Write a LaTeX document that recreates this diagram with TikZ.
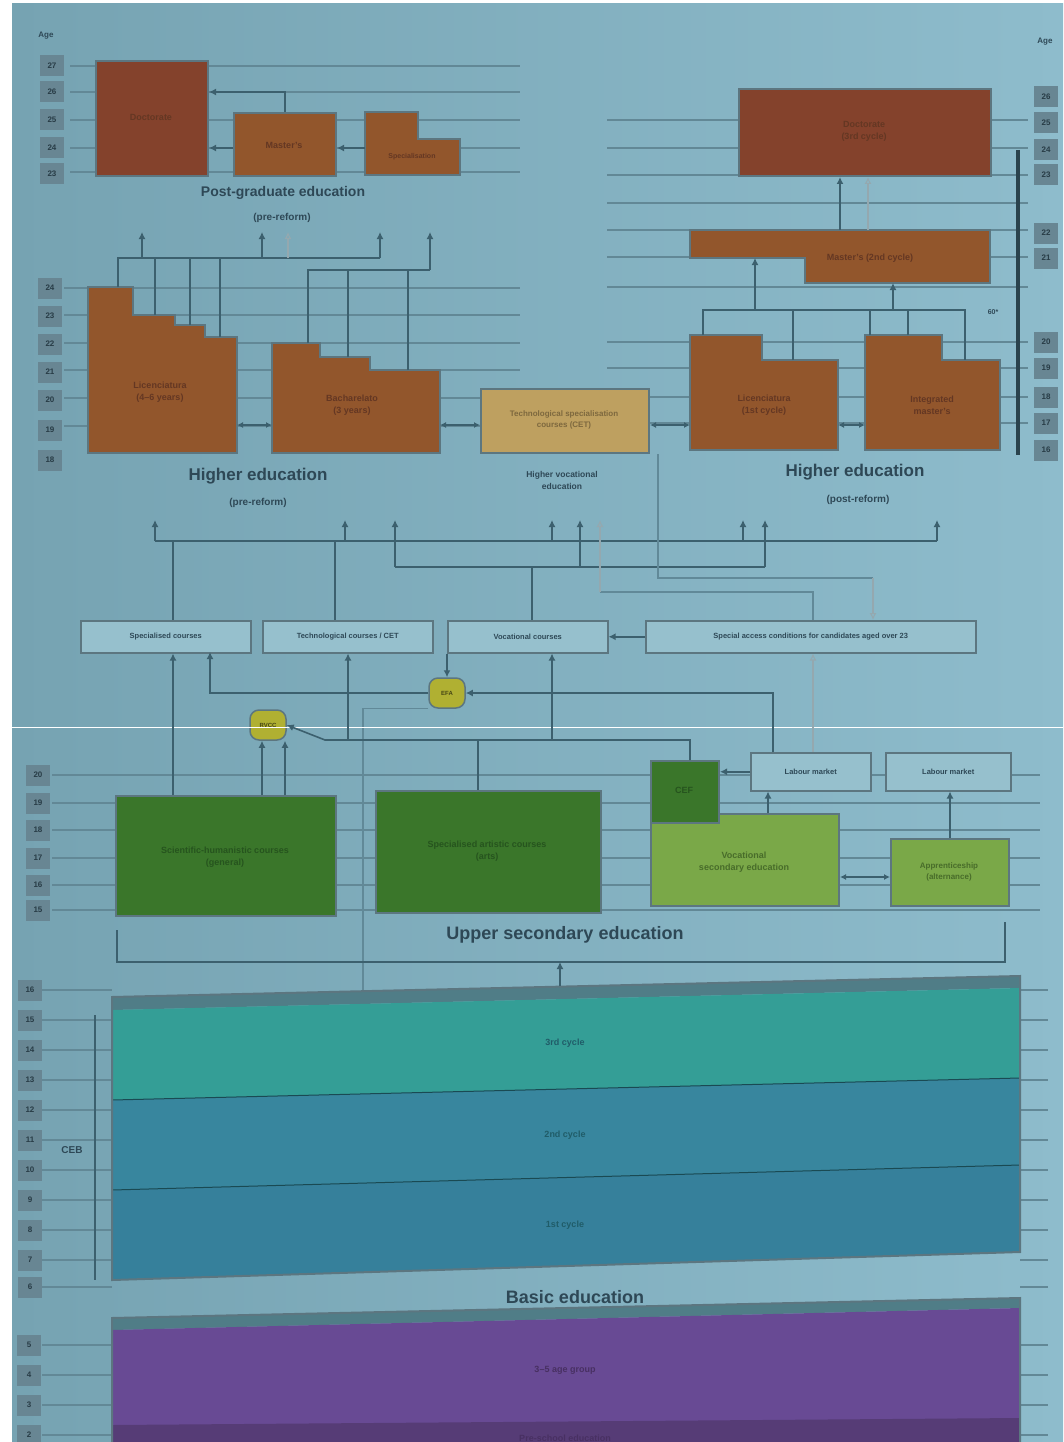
\documentclass[tikz,border=0pt]{standalone}
\usepackage{fontspec}
\setmainfont{Liberation Sans}
\usetikzlibrary{arrows.meta}
\definecolor{bgl}{RGB}{118,163,178}
\definecolor{bgr}{RGB}{142,188,204}
\definecolor{gridc}{RGB}{98,136,150}
\definecolor{linec}{RGB}{60,96,110}
\definecolor{edgec}{RGB}{92,118,128}
\definecolor{rustA}{RGB}{132,66,44}
\definecolor{rustB}{RGB}{146,86,44}
\definecolor{rustT}{RGB}{100,55,35}
\definecolor{tanc}{RGB}{190,160,96}
\definecolor{tanT}{RGB}{125,104,62}
\definecolor{gdark}{RGB}{58,118,42}
\definecolor{gdarkT}{RGB}{38,84,30}
\definecolor{glight}{RGB}{122,168,72}
\definecolor{glightT}{RGB}{72,108,42}
\definecolor{tealc}{RGB}{52,158,150}
\definecolor{bluec}{RGB}{56,134,158}
\definecolor{blueb}{RGB}{54,128,155}
\definecolor{bandT}{RGB}{32,92,104}
\definecolor{topface}{RGB}{80,125,135}
\definecolor{purc}{RGB}{104,74,148}
\definecolor{purd}{RGB}{86,60,118}
\definecolor{purT}{RGB}{72,48,98}
\definecolor{rowfill}{RGB}{150,192,205}
\definecolor{headc}{RGB}{46,72,86}
\definecolor{agefill}{RGB}{104,134,147}
\definecolor{agetxt}{RGB}{40,60,70}
\definecolor{yelc}{RGB}{176,176,50}
\begin{document}
\begin{tikzpicture}[x=1pt,y=-1pt,
  every node/.style={inner sep=0pt},
  boxnw/.style={anchor=north west, rectangle, draw=edgec, line width=2pt},
  rowbox/.style={boxnw, fill=rowfill, line width=1.5pt, minimum height=32pt,
    font=\bfseries\fontsize{7.5}{9}\selectfont, text=headc},
  intxt/.style={font=\bfseries\fontsize{9}{12}\selectfont, align=center},
  head/.style={font=\bfseries\fontsize{17}{19}\selectfont, text=headc},
  sub/.style={font=\bfseries\fontsize{10}{12}\selectfont, text=headc, align=center},
  agebox/.style={fill=agefill, text=agetxt, font=\bfseries\fontsize{8}{9}\selectfont,
    minimum width=24pt, minimum height=21pt},
  gridl/.style={draw=gridc, line width=1.1pt},
  conn/.style={draw=linec, line width=1.6pt},
  arr/.style={conn, -{Latex[length=7pt,width=7pt]}},
  darr/.style={conn, {Latex[length=6pt,width=6pt]}-{Latex[length=6pt,width=6pt]}},
  harr/.style={draw=linec!55!white, line width=1.1pt, -{Latex[open,length=7pt,width=7pt]}},
  thinl/.style={draw=linec!55!bgr, line width=1.1pt},
  ybox/.style={rectangle, rounded corners=9pt, fill=yelc, draw=edgec, line width=1.5pt,
    minimum width=36pt, minimum height=30pt, font=\bfseries\fontsize{6}{7}\selectfont, text=black!60!yelc}
]
\useasboundingbox (0,0) rectangle (1063,1442);
% ---------------- background
\fill[white] (0,0) rectangle (1063,1442);
\shade[left color=bgl, right color=bgr] (12,4) rectangle (1063,1442);

% ---------------- grid lines
\foreach \y in {66,92,120,148,172} \draw[gridl] (70,\y) -- (520,\y);
\foreach \y in {120,148,175,203,230,257} \draw[gridl] (607,\y) -- (1028,\y);
\foreach \y in {288,315,343,370,398,426} \draw[gridl] (64,\y) -- (520,\y);
\foreach \y in {287,342,368,397,423} \draw[gridl] (607,\y) -- (1028,\y);
\foreach \y in {775,803,830,858,885,910} \draw[gridl] (52,\y) -- (1040,\y);
\foreach \y in {990,1020,1050,1080,1110,1140,1170,1200,1230,1260,1287} {
  \draw[gridl] (42,\y) -- (112,\y);
  \draw[gridl] (1020,\y) -- (1048,\y);}
\foreach \y in {1345,1375,1405,1435} {
  \draw[gridl] (42,\y) -- (112,\y);
  \draw[gridl] (1020,\y) -- (1048,\y);}

% ---------------- age columns
\node[font=\bfseries\fontsize{8}{9}\selectfont, text=headc] (ageL) at (46,36) {Age};
\node[font=\bfseries\fontsize{8}{9}\selectfont, text=headc] (ageR) at (1045,42) {Age};
\foreach \a/\y [count=\i] in {27/66,26/92,25/120,24/148,23/174}
  \node[agebox] (pga\i) at (52,\y) {\a};
\foreach \a/\y [count=\i] in {24/288,23/316,22/344,21/372,20/400,19/430,18/460}
  \node[agebox] (hea\i) at (50,\y) {\a};
\foreach \a/\y [count=\i] in {26/97,25/123,24/150,23/175,22/233,21/258,20/342,19/368,18/397,17/423,16/450}
  \node[agebox] (ra\i) at (1046,\y) {\a};
\foreach \a/\y [count=\i] in {20/775,19/803,18/830,17/858,16/885,15/910}
  \node[agebox] (usa\i) at (38,\y) {\a};
\foreach \a/\y [count=\i] in {16/990,15/1020,14/1050,13/1080,12/1110,11/1140,10/1170,9/1200,8/1230,7/1260,6/1287}
  \node[agebox] (ba\i) at (30,\y) {\a};
\foreach \a/\y [count=\i] in {5/1345,4/1375,3/1405,2/1435}
  \node[agebox] (pa\i) at (29,\y) {\a};

% ---------------- post-graduate (pre-reform)
\node[boxnw, fill=rustA, minimum width=112pt, minimum height=115pt] (pg1) at (95,60) {};
\node[intxt, text=rustT] (pg1t) at (151,117) {Doctorate};
\node[boxnw, fill=rustB, minimum width=102pt, minimum height=63pt] (pg2) at (233,112) {};
\node[intxt, text=rustT] (pg2t) at (284,145) {Master's};
\filldraw[fill=rustB, draw=edgec, line width=2pt] (365,112) -- (418,112) -- (418,139) -- (460,139) -- (460,175) -- (365,175) -- cycle;
\node[intxt, text=rustT, font=\bfseries\fontsize{7}{9}\selectfont] (pg3t) at (412,157) {Specialisation};
\coordinate (pg3w) at (365,148);
\coordinate (pgj) at (284,92);
\draw[arr] (pg2.north) -- (pg2.north |- pgj) -- (pg1.east |- pgj);
\draw[arr] (pg2.west |- pg3w) -- (pg1.east |- pg3w);
\draw[arr] (pg3w) -- (pg2.east |- pg3w);
\node[head, font=\bfseries\fontsize{14}{16}\selectfont] (pgh) at (283,193) {Post-graduate education};
\node[sub] (pgs) at (282,218) {(pre-reform)};

% ---------------- higher education (pre-reform)
\filldraw[fill=rustB, draw=edgec, line width=2pt] (88,287) -- (133,287) -- (133,315) -- (175,315) -- (175,325) -- (205,325) -- (205,337) -- (237,337) -- (237,453) -- (88,453) -- cycle;
\node[intxt, text=rustT] (he1t) at (160,392) {Licenciatura\\(4--6 years)};
\filldraw[fill=rustB, draw=edgec, line width=2pt] (272,343) -- (320,343) -- (320,357) -- (370,357) -- (370,370) -- (440,370) -- (440,453) -- (272,453) -- cycle;
\node[intxt, text=rustT] (he2t) at (352,405) {Bacharelato\\(3 years)};
\coordinate (he1a) at (118,287); \coordinate (he1b) at (155,315);
\coordinate (he1c) at (190,325); \coordinate (he1d) at (220,337);
\coordinate (he2a) at (308,343); \coordinate (he2b) at (348,357); \coordinate (he2c) at (408,370);
\coordinate (jA) at (0,258); \coordinate (jB) at (0,270);
\coordinate (up1) at (142,232); \coordinate (up2) at (262,232); \coordinate (up3) at (380,232);
\coordinate (up4) at (430,232); \coordinate (up5) at (288,232);
\draw[conn] (he1a) -- (he1a |- jA) -- (up3 |- jA);
\foreach \c in {he1b,he1c,he1d} \draw[conn] (\c) -- (\c |- jA);
\foreach \c in {up1,up2,up3} \draw[arr] (\c |- jA) -- (\c);
\draw[harr] (up5 |- jA) -- (up5);
\draw[conn] (he2a) -- (he2a |- jB) -- (up4 |- jB);
\foreach \c in {he2b,he2c} \draw[conn] (\c) -- (\c |- jB);
\draw[arr] (up4 |- jB) -- (up4);
\coordinate (he1e) at (237,425); \coordinate (he2w) at (272,425); \coordinate (he2e) at (440,425);
\draw[darr] (he1e) -- (he2w);
\node[head] (heLh) at (258,476) {Higher education};
\node[sub] (heLs) at (258,503) {(pre-reform)};

% ---------------- higher vocational
\node[boxnw, fill=tanc, minimum width=168pt, minimum height=64pt] (tan) at (480,388) {};
\node[intxt, text=tanT, font=\bfseries\fontsize{8}{11}\selectfont] (tant) at (564,420) {Technological specialisation\\courses (CET)};
\draw[darr] (he2e) -- (tan.west |- he2e);
\node[sub, font=\bfseries\fontsize{8.5}{12}\selectfont] (tanl) at (562,480) {Higher vocational\\education};

% ---------------- higher education (post-reform)
\node[boxnw, fill=rustA, minimum width=252pt, minimum height=87pt] (tr) at (738,88) {};
\node[intxt, text=rustT] (trt) at (864,131) {Doctorate\\(3rd cycle)};
\filldraw[fill=rustB, draw=edgec, line width=2pt] (690,230) -- (990,230) -- (990,283) -- (805,283) -- (805,258) -- (690,258) -- cycle;
\node[intxt, text=rustT] (bart) at (870,258) {Master's (2nd cycle)};
\coordinate (barT1) at (840,230); \coordinate (barT2) at (868,230);
\draw[arr] (barT1) -- (barT1 |- tr.south);
\draw[harr] (barT2) -- (barT2 |- tr.south);
\filldraw[fill=rustB, draw=edgec, line width=2pt] (690,335) -- (762,335) -- (762,360) -- (838,360) -- (838,450) -- (690,450) -- cycle;
\node[intxt, text=rustT] (hat) at (764,405) {Licenciatura\\(1st cycle)};
\filldraw[fill=rustB, draw=edgec, line width=2pt] (865,335) -- (942,335) -- (942,360) -- (1000,360) -- (1000,450) -- (865,450) -- cycle;
\node[intxt, text=rustT] (hbt) at (932,405) {Integrated\\master's};
\coordinate (ha1) at (703,335); \coordinate (ha2) at (793,360);
\coordinate (hb1) at (870,335); \coordinate (hb2) at (908,335); \coordinate (hb3) at (965,360);
\coordinate (jC) at (0,310);
\draw[conn] (ha1) -- (ha1 |- jC) -- (hb3 |- jC) -- (hb3);
\foreach \c in {ha2,hb1,hb2} \draw[conn] (\c) -- (\c |- jC);
\coordinate (barB1) at (755,258); \coordinate (barB2) at (893,283);
\draw[arr] (barB1 |- jC) -- (barB1);
\draw[arr] (barB2 |- jC) -- (barB2);
\coordinate (haw) at (690,425); \coordinate (hae) at (838,425); \coordinate (hbw) at (865,425);
\draw[darr] (tan.east |- haw) -- (haw);
\draw[darr] (hae) -- (hbw);
\node[font=\bfseries\fontsize{7}{8}\selectfont, text=headc] (ects) at (993,312) {60*};
\coordinate (vbT) at (1018,150); \coordinate (vbB) at (1018,455);
\draw[draw=linec!70!black, line width=4pt] (vbT) -- (vbB);
\node[head] (heRh) at (855,472) {Higher education};
\node[sub] (heRs) at (858,500) {(post-reform)};

% ---------------- middle network
\coordinate (n1) at (155,520); \coordinate (n2) at (345,520); \coordinate (n3) at (395,520);
\coordinate (n4) at (552,520); \coordinate (n5) at (580,520); \coordinate (n6) at (600,520);
\coordinate (n7) at (743,520); \coordinate (n8) at (765,520); \coordinate (n9) at (937,520);
\coordinate (jD) at (0,541); \coordinate (jE) at (0,567);
\draw[conn] (n1 |- jD) -- (n9 |- jD);
\foreach \c in {n1,n2,n4,n7,n9} \draw[arr] (\c |- jD) -- (\c);
\draw[conn] (n3 |- jE) -- (n8 |- jE);
\foreach \c in {n3,n5,n8} \draw[arr] (\c |- jE) -- (\c);

% row boxes
\node[rowbox, minimum width=170pt] (b1) at (80,620) {Specialised courses};
\node[rowbox, minimum width=170pt] (b2) at (262,620) {Technological courses / CET};
\node[rowbox, minimum width=160pt] (b3) at (447,620) {Vocational courses};
\node[rowbox, minimum width=330pt] (b4) at (645,620) {Special access conditions for candidates aged over 23};
\draw[conn] (173,541) -- (b1.north -| 173,0);
\coordinate (b2x) at (335,541); \draw[conn] (b2x) -- (b2x |- b2.north);
\coordinate (b3x) at (532,567); \draw[conn] (b3x) -- (b3x |- b3.north);
\draw[arr] (b4.west) -- (b3.east);
% hollow / thin routes
\coordinate (hx1) at (813,592); \coordinate (hx2) at (600,592);
\draw[thinl] (hx1 |- b4.north) -- (hx1) -- (hx2);
\draw[harr] (hx2) -- (n6);
\coordinate (tx1) at (658,578); \coordinate (tx2) at (873,578);
\draw[thinl] (tx1 |- tan.south) -- (tx1) -- (tx2);
\draw[harr] (tx2) -- (tx2 |- b4.north);

% yellow boxes
\node[ybox] (y1) at (268,725) {RVCC};
\node[ybox] (y2) at (447,693) {EFA};
\draw[arr] (b3.south -| y2.north) -- (y2.north);
\coordinate (b1x2) at (210,652);
\draw[arr] (y2.west) -| (b1x2);
\coordinate (t2) at (363,1005);
\draw[thinl] (y2.south west) -| (t2);

% white scan line
\draw[white, line width=0.8pt] (12,727) -- (1063,727);

% ---------------- upper secondary
\node[boxnw, fill=gdark, minimum width=220pt, minimum height=120pt] (g1) at (115,795) {};
\node[intxt, text=gdarkT] (g1t) at (225,857) {Scientific-humanistic courses\\(general)};
\node[boxnw, fill=gdark, minimum width=225pt, minimum height=122pt] (g2) at (375,790) {};
\node[intxt, text=gdarkT] (g2t) at (487,851) {Specialised artistic courses\\(arts)};
\node[boxnw, fill=glight, minimum width=188pt, minimum height=92pt] (g4) at (650,813) {};
\node[intxt, text=glightT] (g4t) at (744,862) {Vocational\\secondary education};
\node[boxnw, fill=gdark, minimum width=68pt, minimum height=62pt] (g3) at (650,760) {};
\node[intxt, text=gdarkT] (g3t) at (684,790) {CEF};
\node[boxnw, fill=glight, minimum width=118pt, minimum height=67pt] (g5) at (890,838) {};
\node[intxt, text=glightT, font=\bfseries\fontsize{8}{11}\selectfont] (g5t) at (949,872) {Apprenticeship\\(alternance)};
\node[rowbox, minimum width=120pt, minimum height=38pt] (w1) at (750,752) {Labour market};
\node[rowbox, minimum width=125pt, minimum height=38pt] (w2) at (885,752) {Labour market};
\draw[arr] (w1.west) -- (w1.west -| g3.east);
\coordinate (g4a) at (768,813); \draw[arr] (g4a) -- (g4a |- w1.south);
\draw[arr] (g5.north) -- (g5.north |- w2.south);
\coordinate (gy) at (0,877); \draw[darr] (g4.east |- gy) -- (g5.west |- gy);
\coordinate (w1x) at (773,752);
\draw[arr] (w1x) |- (y2.east);
% links to yellow RVCC and row boxes
\coordinate (g1a) at (262,795); \coordinate (g1b) at (285,795);
\draw[arr] (g1a) -- (g1a |- y1.south);
\draw[arr] (g1b) -- (g1b |- y1.south);
\coordinate (g3a) at (690,760); \coordinate (kink) at (325,740);
\draw[arr] (g3a) |- (kink) -- (y1.east);
\coordinate (l1) at (348,740); \draw[arr] (l1) -- (l1 |- b2.south);
\coordinate (l2) at (552,740); \draw[arr] (l2) -- (l2 |- b3.south);
\coordinate (l3) at (478,740); \draw[conn] (l3) -- (l3 |- g2.north);
\coordinate (l4) at (173,795); \draw[arr] (l4) -- (l4 |- b1.south);
\coordinate (l5) at (813,752); \draw[harr] (l5) -- (l5 |- b4.south);

% bracket
\coordinate (br1) at (117,930); \coordinate (br2) at (117,962);
\coordinate (br3) at (1005,962); \coordinate (br4) at (1005,922);
\draw[conn, line width=2pt] (br1) -- (br2) -- (br3) -- (br4);
\node[head, font=\bfseries\fontsize{18}{20}\selectfont] (ush) at (565,935) {Upper secondary education};

% ---------------- basic education
\fill[topface] (112,997) -- (1020,976) -- (1020,988) -- (112,1010) -- cycle;
\fill[tealc] (112,1010) -- (1020,988) -- (1020,1078) -- (112,1100) -- cycle;
\fill[bluec] (112,1100) -- (1020,1078) -- (1020,1165) -- (112,1190) -- cycle;
\fill[blueb] (112,1190) -- (1020,1165) -- (1020,1252) -- (112,1280) -- cycle;
\draw[draw=bandT!80!black, line width=1pt] (112,1100) -- (1020,1078);
\draw[draw=bandT!80!black, line width=1pt] (112,1190) -- (1020,1165);
\draw[draw=edgec, line width=2pt] (112,997) -- (1020,976) -- (1020,1252) -- (112,1280) -- cycle;
\node[intxt, text=bandT] (c3) at (565,1043) {3rd cycle};
\node[intxt, text=bandT] (c2) at (565,1135) {2nd cycle};
\node[intxt, text=bandT] (c1) at (565,1225) {1st cycle};
\coordinate (bt) at (560,986);
\draw[arr] (bt) -- (bt |- br2);
\coordinate (lb1) at (95,1015); \coordinate (lb2) at (95,1280);
\draw[conn] (lb1) -- (lb2);
\node[font=\bfseries\fontsize{10}{12}\selectfont, text=headc] (ceb) at (72,1150) {CEB};
\node[head, font=\bfseries\fontsize{18}{20}\selectfont] (bah) at (575,1297) {Basic education};

% ---------------- pre-school
\fill[topface] (112,1318) -- (1020,1298) -- (1020,1308) -- (112,1330) -- cycle;
\fill[purc] (112,1330) -- (1020,1308) -- (1020,1442) -- (112,1442) -- cycle;
\fill[purd] (112,1425) -- (1020,1418) -- (1020,1442) -- (112,1442) -- cycle;
\draw[draw=edgec, line width=2pt] (112,1442) -- (112,1318) -- (1020,1298) -- (1020,1442);
\node[intxt, text=purT] (pre) at (565,1370) {3--5 age group};
\node[intxt, text=purT] (preb) at (565,1438) {Pre-school education};
\end{tikzpicture}
\end{document}
